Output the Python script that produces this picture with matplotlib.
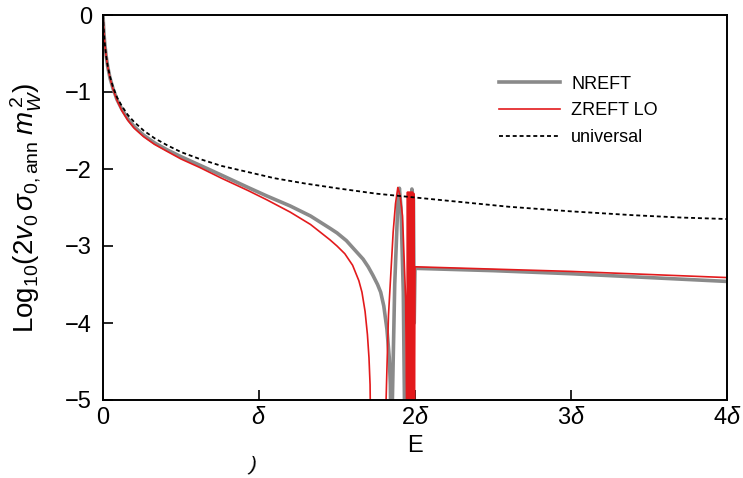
import matplotlib
matplotlib.use('Agg')
import matplotlib.pyplot as plt

plt.rcParams['font.family'] = ['Liberation Sans', 'DejaVu Sans']
plt.rcParams['mathtext.fontset'] = 'custom'
plt.rcParams['mathtext.rm'] = 'Liberation Sans'
plt.rcParams['mathtext.it'] = 'Liberation Sans:italic'

# E in units of delta, values are Log10(2 v0 sigma m_W^2)
e_univ = [0, 0.003, 0.006, 0.01, 0.015, 0.02, 0.03, 0.045, 0.065, 0.09, 0.12, 0.16, 0.2,
          0.26, 0.33, 0.41, 0.5, 0.62, 0.76, 0.93, 1.1, 1.3, 1.5, 1.75, 2.0, 2.3, 2.6,
          3.0, 3.4, 3.7, 4.0]
y_univ = [0, -0.13, -0.23, -0.34, -0.44, -0.53, -0.66, -0.80, -0.94, -1.07, -1.18, -1.30,
          -1.39, -1.50, -1.60, -1.69, -1.78, -1.87, -1.96, -2.04, -2.12, -2.19, -2.25,
          -2.32, -2.37, -2.43, -2.49, -2.55, -2.60, -2.63, -2.65]

e_nreft = [0, 0.003, 0.006, 0.01, 0.015, 0.02, 0.03, 0.045, 0.065, 0.09, 0.12, 0.16, 0.2,
           0.26, 0.33, 0.41, 0.5, 0.62, 0.76, 0.93, 1.05, 1.2, 1.33, 1.455, 1.5, 1.56,
           1.6, 1.667, 1.7, 1.73, 1.76, 1.78, 1.8, 1.82, 1.835, 1.842, 1.846, 1.85,
           1.87, 1.89, 1.90, 1.91, 1.925, 1.935, 1.965, 1.98, 1.99, 1.995, 2.0, 2.5,
           3.0, 3.5, 4.0]
y_nreft = [0, -0.13, -0.23, -0.34, -0.44, -0.53, -0.67, -0.82, -0.96, -1.10, -1.22, -1.35,
           -1.45, -1.56, -1.66, -1.75, -1.84, -1.95, -2.08, -2.24, -2.35, -2.48, -2.61,
           -2.77, -2.83, -2.93, -3.02, -3.17, -3.27, -3.38, -3.50, -3.60, -3.78, -4.08,
           -4.45, -4.8, -5.5, -5.5, -3.5, -2.45, -2.25, -2.5, -3.6, -5.5, -5.5, -2.26,
           -2.4, -4.0, -3.29, -3.32, -3.36, -3.41, -3.46]

e_zreft = [0, 0.003, 0.006, 0.01, 0.015, 0.02, 0.03, 0.045, 0.065, 0.09, 0.12, 0.16, 0.2,
           0.26, 0.33, 0.41, 0.5, 0.62, 0.76, 0.93, 1.05, 1.2, 1.33, 1.455, 1.5, 1.55,
           1.6, 1.64, 1.66, 1.68, 1.695, 1.705, 1.712, 1.716, 1.808, 1.82, 1.83, 1.86,
           1.875, 1.89, 1.905, 1.92, 1.94, 1.948, 1.952, 1.956, 1.960, 1.964, 1.968,
           1.972, 1.976, 1.980, 1.984, 1.988, 1.992, 1.996, 2.0, 2.5, 3.0, 3.5, 4.0]
y_zreft = [0, -0.13, -0.23, -0.34, -0.44, -0.53, -0.67, -0.82, -0.97, -1.11, -1.24, -1.37,
           -1.47, -1.58, -1.68, -1.77, -1.87, -1.98, -2.12, -2.28, -2.40, -2.56, -2.72,
           -2.92, -3.00, -3.10, -3.25, -3.45, -3.60, -3.85, -4.15, -4.45, -4.8, -5.5,
           -5.5, -4.6, -3.9, -2.82, -2.45, -2.24, -2.35, -2.61, -3.69, -5.5, -2.3, -5.5,
           -2.3, -5.5, -2.3, -5.5, -2.3, -5.5, -2.3, -5.5, -2.32, -5.5, -3.27, -3.30,
           -3.33, -3.37, -3.41]

xticks = [0, 1, 2, 3, 4]
xticklabels = ['0', r'$\delta$', r'2$\delta$', r'3$\delta$', r'4$\delta$']
yticks = [0, -1, -2, -3, -4, -5]
yticklabels = ['0', '\u22121', '\u22122', '\u22123', '\u22124', '\u22125']

fig = plt.figure(figsize=(7.43, 4.78), dpi=100)
ax = fig.add_axes([103 / 743, 1 - 400 / 478, 624 / 743, 385 / 478])

ax.plot(e_nreft, y_nreft, color='#8a8a8a', lw=2.6, label='NREFT')
ax.plot(e_zreft, y_zreft, color='#e31a1c', lw=1.2, label='ZREFT LO')
ax.plot(e_univ, y_univ, color='black', lw=1.3, ls=(0, (2.2, 1.6)), label='universal')

ax.set_xlim(0, 4)
ax.set_ylim(-5, 0)
ax.set_xticks(xticks)
ax.set_xticklabels(xticklabels)
ax.set_yticks(yticks)
ax.set_yticklabels(yticklabels)
ax.tick_params(direction='in', length=7, width=1.2, labelsize=17)
ax.tick_params(axis='y', pad=8)
ax.tick_params(axis='x', pad=5)
for s in ax.spines.values():
    s.set_linewidth(1.4)

ax.set_xlabel('E', fontsize=17)
ax.xaxis.set_label_coords(0.5, -0.09)
ax.set_ylabel(r'Log$_{10}$(2$v_0\,\sigma_{0,\mathrm{ann}}\;m_W^{\,2}$)', fontsize=20)
ax.yaxis.set_label_coords(-0.095, 0.5)

ax.legend(loc='upper right', bbox_to_anchor=(0.915, 0.885), frameon=False, fontsize=13,
          handlelength=3.4, handletextpad=0.6, labelspacing=0.55)

fig.text(253 / 743, 1 - 456 / 478, ')', fontsize=15, va='top', ha='center', rotation=-15)

plt.savefig('out.png', dpi=100)
